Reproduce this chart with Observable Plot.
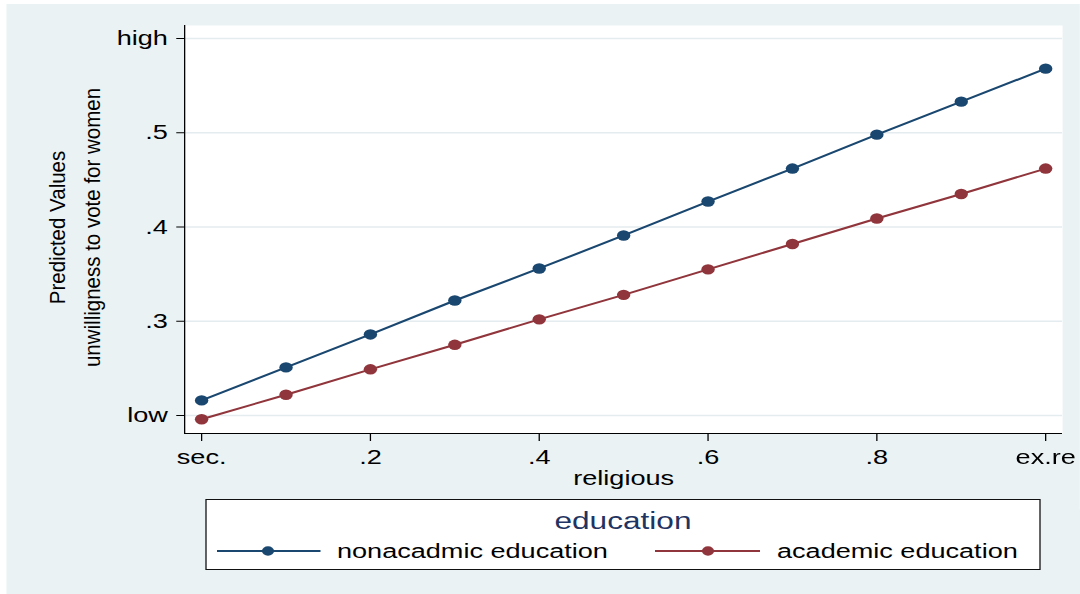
<!DOCTYPE html>
<html>
<head>
<meta charset="utf-8">
<script src="https://cdn.jsdelivr.net/npm/d3@7"></script>
<script src="https://cdn.jsdelivr.net/npm/@observablehq/plot@0.6"></script>
<style>
  html, body { margin: 0; padding: 0; background: #ffffff; }
  #stage { position: absolute; left: 0; top: 0; height: 594px; transform-origin: 0 0; font-family: "Liberation Sans", Arial, sans-serif; }
  #panel { position: absolute; background: #eaf2f3; }
  #plot { position: absolute; left: 0; top: 0; }
  #legend { position: absolute; left: 0; top: 0; }
</style>
</head>
<body>
<div id="stage">
  <div id="panel"></div>
  <div id="plot"></div>
  <svg id="legend"></svg>
</div>
<script>
// ---- data ----
const religious = [0, 0.1, 0.2, 0.3, 0.4, 0.5, 0.6, 0.7, 0.8, 0.9, 1.0];
const nonacademic = [0.216, 0.251, 0.286, 0.322, 0.356, 0.391, 0.427, 0.462, 0.498, 0.533, 0.568];
const academic = [0.196, 0.222, 0.249, 0.275, 0.302, 0.328, 0.355, 0.382, 0.409, 0.435, 0.462];
const seriesNames = ["nonacadmic education", "academic education"];
const seriesColors = ["#1a476f", "#90353b"];
const yTicks = [0.2, 0.3, 0.4, 0.5, 0.6];
const yTickLabels = ["low", ".3", ".4", ".5", "high"];
const xTicks = [0, 0.2, 0.4, 0.6, 0.8, 1.0];
const xTickLabels = ["sec.", ".2", ".4", ".6", ".8", "ex.re"];
const xTitle = "religious";
const yTitle1 = "Predicted Values";
const yTitle2 = "unwilligness to vote for women";
const legendTitle = "education";

// ---- layout (the reference is horizontally stretched) ----
const S = 1.29;
const W = 1080 / S;
const H = 594;
const stage = document.getElementById("stage");
stage.style.width = W + "px";
stage.style.transform = `scaleX(${S})`;
const panel = document.getElementById("panel");
panel.style.left = (7 / S) + "px";
panel.style.top = "4px";
panel.style.width = (W - 7 / S) + "px";
panel.style.height = (H - 4) + "px";

const data = religious.flatMap((x, i) => [
  {x, y: nonacademic[i], s: seriesNames[0]},
  {x, y: academic[i], s: seriesNames[1]}
]);

const xDomain = [-0.0201, 1.0201];
const yDomain = [0.1809, 0.6138];
const font = "\"Liberation Sans\", Arial, sans-serif";

const chart = Plot.plot({
  width: W,
  height: H,
  marginLeft: 184 / S,
  marginRight: (1080 - 1062) / S,
  marginTop: 25,
  marginBottom: H - 433,
  style: {background: "transparent", fontFamily: font, color: "#000", overflow: "visible"},
  x: {domain: xDomain, label: null},
  y: {domain: yDomain, label: null},
  color: {domain: seriesNames, range: seriesColors},
  marks: [
    Plot.frame({fill: "white", stroke: "none"}),
    Plot.gridY(yTicks, {stroke: "#e4ecef", strokeOpacity: 1, strokeWidth: 1.6}),
    Plot.ruleX([xDomain[0]], {stroke: "#000", strokeWidth: 1}),
    Plot.ruleY([yDomain[0]], {stroke: "#000", strokeWidth: 1}),
    Plot.axisY(yTicks, {
      tickFormat: d => yTickLabels[yTicks.indexOf(d)],
      tickSize: 6, tickPadding: 7, fontSize: 21, label: null, stroke: "#000"
    }),
    Plot.axisX(xTicks, {
      tickFormat: d => xTickLabels[xTicks.indexOf(d)],
      tickSize: 8, tickPadding: 7.5, fontSize: 21, label: null, stroke: "#000"
    }),
    Plot.line(data, {x: "x", y: "y", z: "s", stroke: "s", strokeWidth: 2}),
    Plot.dot(data, {x: "x", y: "y", fill: "s", r: 5.2, stroke: "none"}),
    Plot.text([xTitle], {frameAnchor: "bottom", lineAnchor: "middle", textAnchor: "middle", dy: 44.3, fontSize: 21, fill: "#000", text: d => d}),
    Plot.text([yTitle1], {frameAnchor: "left", textAnchor: "middle", lineAnchor: "middle", dx: 58 / S - 184 / S, dy: -2, rotate: -90, fontSize: 20.5, fill: "#000", text: d => d}),
    Plot.text([yTitle2], {frameAnchor: "left", textAnchor: "middle", lineAnchor: "middle", dx: 93 / S - 184 / S, dy: -2, rotate: -90, fontSize: 20.5, fill: "#000", text: d => d})
  ]
});
document.getElementById("plot").appendChild(chart);

// condense the rotated y titles like the reference
d3.select(chart).selectAll("text").filter(function() {
  return this.textContent === yTitle1 || this.textContent === yTitle2;
}).each(function() {
  const t = this.getAttribute("transform") || "";
  this.setAttribute("transform", t + " scale(1,0.8)");
});

// ---- legend ----
const lg = d3.select("#legend").attr("width", W).attr("height", H).style("overflow", "visible");
const bx0 = 206 / S, bx1 = 1040 / S, by0 = 499.5, by1 = 569.5;
lg.append("rect").attr("x", bx0).attr("y", by0).attr("width", bx1 - bx0).attr("height", by1 - by0)
  .attr("fill", "white").attr("stroke", "#111").attr("stroke-width", 1);
lg.append("text").attr("x", (bx0 + bx1) / 2).attr("y", 529).attr("text-anchor", "middle")
  .attr("font-family", font).attr("font-size", 24.5).attr("fill", "#1f3462").text(legendTitle);
const entries = [
  {l0: 217, l1: 320.5, dot: 268, tx: 337},
  {l0: 655, l1: 760, dot: 708, tx: 777}
];
entries.forEach((e, i) => {
  const ly = 551;
  lg.append("line").attr("x1", e.l0 / S).attr("x2", e.l1 / S).attr("y1", ly).attr("y2", ly)
    .attr("stroke", seriesColors[i]).attr("stroke-width", 2);
  lg.append("circle").attr("cx", e.dot / S).attr("cy", ly).attr("r", 4.7).attr("fill", seriesColors[i]);
  lg.append("text").attr("x", e.tx / S).attr("y", 558.5).attr("font-family", font)
    .attr("font-size", 21).attr("fill", "#000").text(seriesNames[i]);
});
</script>
</body>
</html>
